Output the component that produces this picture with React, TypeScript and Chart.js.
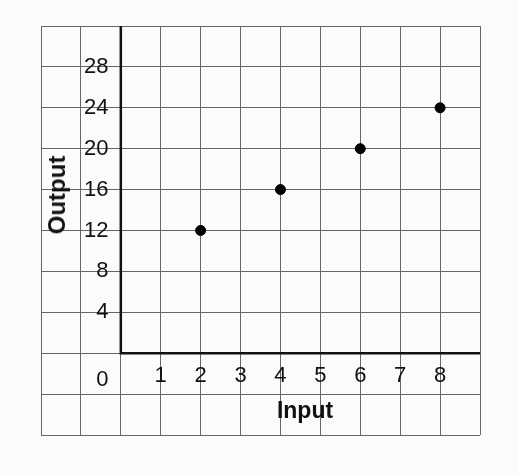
import React, { useEffect, useRef } from "react";
import { Chart, registerables } from "chart.js";

Chart.register(...registerables);

// Data
const inputs = [2, 4, 6, 8];
const outputs = [12, 16, 20, 24];

// Axis ranges and labels
const X_MIN = -2;
const X_MAX = 9;
const X_STEP = 1;
const Y_MIN = -8;
const Y_MAX = 32;
const Y_STEP = 4;
const xTickLabels = [1, 2, 3, 4, 5, 6, 7, 8];
const yTickLabels = [4, 8, 12, 16, 20, 24, 28];
const originLabel = "0";
const xTitle = "Input";
const yTitle = "Output";

const W = 519;
const H = 475;
const GAP = "  "; // keeps y labels off the axis line

export default function App() {
  const ref = useRef<HTMLCanvasElement | null>(null);

  useEffect(() => {
    if (!ref.current) return;
    const axisLine = [
      { x: 0, y: Y_MAX },
      { x: 0, y: 0 },
      { x: X_MAX, y: 0 },
    ];
    const chart = new Chart(ref.current, {
      type: "scatter",
      data: {
        datasets: [
          {
            type: "line",
            data: axisLine,
            borderColor: "#111",
            borderWidth: 2.5,
            pointRadius: 0,
            fill: false,
            tension: 0,
            order: 2,
          } as any,
          {
            type: "scatter",
            data: inputs.map((x, i) => ({ x, y: outputs[i] })),
            backgroundColor: "#000",
            borderColor: "#000",
            pointRadius: 5,
            pointHoverRadius: 5,
            order: 1,
          },
        ],
      },
      options: {
        responsive: false,
        animation: false,
        events: [],
        layout: { padding: { left: 41, right: 39, top: 26, bottom: 40 } },
        plugins: { legend: { display: false }, tooltip: { enabled: false } },
        scales: {
          x: {
            type: "linear",
            min: X_MIN,
            max: X_MAX,
            position: { y: 0 } as any,
            border: { display: false },
            grid: { color: "#666", lineWidth: 1, drawTicks: false },
            ticks: {
              stepSize: X_STEP,
              autoSkip: false,
              maxRotation: 0,
              padding: 10,
              color: "#111",
              font: { family: "'Liberation Sans', Arial, sans-serif", size: 22 },
              callback: (v: any) => (xTickLabels.includes(Number(v)) ? String(v) : ""),
            },
          },
          y: {
            type: "linear",
            min: Y_MIN,
            max: Y_MAX,
            position: { x: 0 } as any,
            border: { display: false },
            grid: { color: "#666", lineWidth: 1, drawTicks: false },
            ticks: {
              stepSize: Y_STEP,
              autoSkip: false,
              color: "#111",
              font: { family: "'Liberation Sans', Arial, sans-serif", size: 22 },
              callback: (v: any) => {
                const n = Number(v);
                if (n === 0) return ["", "", originLabel + GAP];
                return yTickLabels.includes(n) ? String(v) + GAP : "";
              },
            },
          },
        },
      },
    });
    return () => chart.destroy();
  }, []);

  return (
    <div
      style={{
        position: "fixed",
        left: 0,
        top: 0,
        width: W,
        height: H,
        background: "#fbfbfb",
        fontFamily: "'Liberation Sans', Arial, sans-serif",
      }}
    >
      <canvas ref={ref} width={W} height={H} style={{ width: W, height: H, display: "block" }} />
      <div
        style={{
          position: "absolute",
          left: 57,
          top: 195,
          transform: "translate(-50%, -50%) rotate(-90deg)",
          fontWeight: "bold",
          fontSize: 24,
          color: "#111",
          whiteSpace: "nowrap",
        }}
      >
        {yTitle}
      </div>
      <div
        style={{
          position: "absolute",
          left: 305,
          top: 410,
          transform: "translate(-50%, -50%)",
          fontWeight: "bold",
          fontSize: 23,
          color: "#111",
          whiteSpace: "nowrap",
        }}
      >
        {xTitle}
      </div>
    </div>
  );
}
